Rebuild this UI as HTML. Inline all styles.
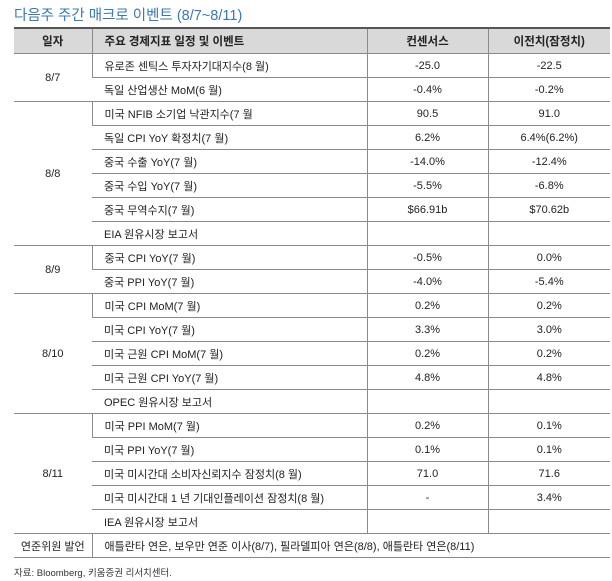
<!DOCTYPE html>
<html><head><meta charset="utf-8"><style>
body{margin:0;width:612px;height:581px;background:#fff;font-family:"Liberation Sans","Noto Sans CJK KR",sans-serif;color:#222;position:relative;overflow:hidden}
#title{position:absolute;left:14px;top:4px;font-size:14.5px;color:#3b78b0}
table{position:absolute;left:14px;top:27px;width:596px;border-collapse:collapse;table-layout:fixed;font-size:11px}
td,th{height:23px;padding:0;border-top:1px solid #8a8a8a;border-bottom:1px solid #8a8a8a;white-space:nowrap}
th{background:#d9d9d9;height:24px;border-top:2px solid #555;font-weight:bold;font-size:11.5px}
td.ev{text-align:left;padding-left:12px}
td.c{text-align:center}
td+td,th+th{border-left:1px solid #8a8a8a}
#foot{position:absolute;left:14px;top:565px;font-size:9.5px;color:#333}
</style></head><body>
<div id="title">다음주 주간 매크로 이벤트 (8/7~8/11)</div>
<table>
<colgroup><col style="width:78px"><col style="width:275px"><col style="width:121px"><col style="width:122px"></colgroup>
<tr><th>일자</th><th style="text-align:left;padding-left:12px">주요 경제지표 일정 및 이벤트</th><th>컨센서스</th><th>이전치(잠정치)</th></tr>
<tr><td class="c" rowspan="2">8/7</td><td class="ev">유로존 센틱스 투자자기대지수(8 월)</td><td class="c">-25.0</td><td class="c">-22.5</td></tr>
<tr><td class="ev">독일 산업생산 MoM(6 월)</td><td class="c">-0.4%</td><td class="c">-0.2%</td></tr>
<tr><td class="c" rowspan="6">8/8</td><td class="ev">미국 NFIB 소기업 낙관지수(7 월</td><td class="c">90.5</td><td class="c">91.0</td></tr>
<tr><td class="ev">독일 CPI YoY 확정치(7 월)</td><td class="c">6.2%</td><td class="c">6.4%(6.2%)</td></tr>
<tr><td class="ev">중국 수출 YoY(7 월)</td><td class="c">-14.0%</td><td class="c">-12.4%</td></tr>
<tr><td class="ev">중국 수입 YoY(7 월)</td><td class="c">-5.5%</td><td class="c">-6.8%</td></tr>
<tr><td class="ev">중국 무역수지(7 월)</td><td class="c">$66.91b</td><td class="c">$70.62b</td></tr>
<tr><td class="ev">EIA 원유시장 보고서</td><td class="c"></td><td class="c"></td></tr>
<tr><td class="c" rowspan="2">8/9</td><td class="ev">중국 CPI YoY(7 월)</td><td class="c">-0.5%</td><td class="c">0.0%</td></tr>
<tr><td class="ev">중국 PPI YoY(7 월)</td><td class="c">-4.0%</td><td class="c">-5.4%</td></tr>
<tr><td class="c" rowspan="5">8/10</td><td class="ev">미국 CPI MoM(7 월)</td><td class="c">0.2%</td><td class="c">0.2%</td></tr>
<tr><td class="ev">미국 CPI YoY(7 월)</td><td class="c">3.3%</td><td class="c">3.0%</td></tr>
<tr><td class="ev">미국 근원 CPI MoM(7 월)</td><td class="c">0.2%</td><td class="c">0.2%</td></tr>
<tr><td class="ev">미국 근원 CPI YoY(7 월)</td><td class="c">4.8%</td><td class="c">4.8%</td></tr>
<tr><td class="ev">OPEC 원유시장 보고서</td><td class="c"></td><td class="c"></td></tr>
<tr><td class="c" rowspan="5">8/11</td><td class="ev">미국 PPI MoM(7 월)</td><td class="c">0.2%</td><td class="c">0.1%</td></tr>
<tr><td class="ev">미국 PPI YoY(7 월)</td><td class="c">0.1%</td><td class="c">0.1%</td></tr>
<tr><td class="ev">미국 미시간대 소비자신뢰지수 잠정치(8 월)</td><td class="c">71.0</td><td class="c">71.6</td></tr>
<tr><td class="ev">미국 미시간대 1 년 기대인플레이션 잠정치(8 월)</td><td class="c">-</td><td class="c">3.4%</td></tr>
<tr><td class="ev">IEA 원유시장 보고서</td><td class="c"></td><td class="c"></td></tr>
<tr><td class="c">연준위원 발언</td><td class="ev" colspan="3">애틀란타 연은, 보우만 연준 이사(8/7), 필라델피아 연은(8/8), 애틀란타 연은(8/11)</td></tr>
</table>
<div id="foot">자료: Bloomberg, 키움증권 리서치센터.</div>
</body></html>
